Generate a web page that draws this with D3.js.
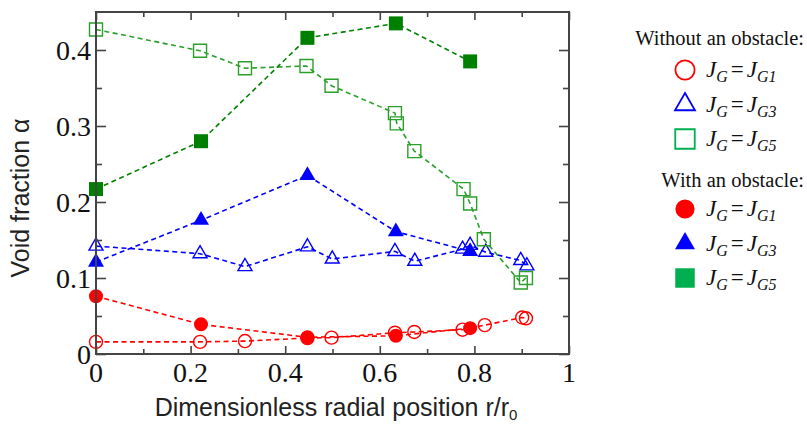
<!DOCTYPE html>
<html>
<head>
<meta charset="utf-8">
<script src="https://cdn.jsdelivr.net/npm/d3@7"></script>
<style>
  body { margin: 0; background: white; }
  svg { display: block; }
</style>
</head>
<body>
<div id="chart"></div>
<script>
// data (x = r/r0, y = void fraction)
var openG1X = [0, 0.22, 0.315, 0.447, 0.498, 0.632, 0.673, 0.775, 0.822, 0.901, 0.909];
var openG1Y = [0.016, 0.016, 0.017, 0.021, 0.0215, 0.028, 0.029, 0.032, 0.038, 0.048, 0.047];
var openG3X = [0, 0.22, 0.315, 0.447, 0.4995, 0.632, 0.674, 0.775, 0.791, 0.824, 0.898, 0.911];
var openG3Y = [0.142, 0.132, 0.115, 0.141, 0.125, 0.135, 0.122, 0.138, 0.143, 0.134, 0.123, 0.116];
var openG5X = [0, 0.22, 0.315, 0.445, 0.498, 0.632, 0.636, 0.673, 0.777, 0.791, 0.82, 0.898, 0.909];
var openG5Y = [0.427, 0.399, 0.376, 0.379, 0.353, 0.317, 0.3035, 0.267, 0.217, 0.198, 0.151, 0.094, 0.1];
var fillX = [0, 0.222, 0.447, 0.634, 0.791];
var fillG1Y = [0.076, 0.039, 0.022, 0.024, 0.034];
var fillG3Y = [0.121, 0.176, 0.235, 0.161, 0.135];
var fillG5Y = [0.217, 0.28, 0.416, 0.435, 0.385];

var xLabels = [0, 0.2, 0.4, 0.6, 0.8, 1];
var yLabels = [0, 0.1, 0.2, 0.3, 0.4];
var legendRows = ["G1", "G3", "G5"];

var width = 807, height = 424;
var red = "#ff0000", blue = "#0000ff", green = "#2a9f2a", dkGreen = "#008000";
var serif = "'Liberation Serif', 'Times New Roman', serif";
var sans = "'Liberation Sans', Arial, sans-serif";

var svg = d3.select("#chart").append("svg")
    .attr("width", width)
    .attr("height", height);

var x = d3.scaleLinear().domain([0, 1]).range([96, 569]);
var y = d3.scaleLinear().domain([0, 0.45]).range([354, 12]);

function pts(xs, ys) {
    return xs.map(function(v, i) { return {x: v, y: ys[i]}; });
}

var line = d3.line()
    .x(d => x(d.x))
    .y(d => y(d.y));

var series = [
    {data: pts(openG1X, openG1Y), color: red, type: d3.symbolCircle, size: 133, fill: false},
    {data: pts(openG3X, openG3Y), color: blue, type: d3.symbolTriangle, size: 85, fill: false},
    {data: pts(openG5X, openG5Y), color: green, type: d3.symbolSquare, size: 169, fill: false},
    {data: pts(fillX, fillG1Y), color: red, type: d3.symbolCircle, size: 154, fill: true},
    {data: pts(fillX, fillG3Y), color: blue, type: d3.symbolTriangle, size: 111, fill: true},
    {data: pts(fillX, fillG5Y), color: dkGreen, type: d3.symbolSquare, size: 196, fill: true}
];

//dashed lines first
series.forEach(function(s) {
    svg.append("path")
        .datum(s.data)
        .attr("fill", "none")
        .attr("stroke", s.color)
        .attr("stroke-width", 1.6)
        .attr("stroke-dasharray", "5,3.5")
        .attr("d", line);
});

//markers
series.forEach(function(s) {
    svg.append("g").selectAll("path")
        .data(s.data)
        .enter().append("path")
        .attr("transform", d => "translate(" + x(d.x) + "," + y(d.y) + ")")
        .attr("d", d3.symbol().type(s.type).size(s.size))
        .attr("fill", s.fill ? s.color : "none")
        .attr("stroke", s.color)
        .attr("stroke-width", s.fill ? 0 : 1.4);
});

//frame and ticks (inward)
var axisColor = "#444";
var axes = svg.append("g").attr("class", "axes");

function tickAxis(axisFn, scale, vals, size, tr) {
    var g = axes.append("g")
        .attr("transform", tr)
        .call(axisFn(scale).tickValues(vals).tickSizeInner(-size).tickSizeOuter(0).tickFormat(""));
    g.select(".domain").remove();
    g.selectAll("line").attr("stroke", axisColor).attr("stroke-width", 1.6);
    return g;
}

var xMinor = d3.range(0.1, 1, 0.2);
var yMinor = d3.range(0.05, 0.45, 0.1);
tickAxis(d3.axisBottom, x, xLabels, 8, "translate(0,354)");
tickAxis(d3.axisBottom, x, xMinor, 5, "translate(0,354)");
tickAxis(d3.axisTop, x, xLabels, 8, "translate(0,12)");
tickAxis(d3.axisTop, x, xMinor, 5, "translate(0,12)");
tickAxis(d3.axisLeft, y, yLabels, 10, "translate(96,0)");
tickAxis(d3.axisLeft, y, yMinor, 6, "translate(96,0)");
tickAxis(d3.axisRight, y, yLabels, 10, "translate(569,0)");
tickAxis(d3.axisRight, y, yMinor, 6, "translate(569,0)");

axes.append("rect")
    .attr("x", 96)
    .attr("y", 12)
    .attr("width", 569 - 96)
    .attr("height", 354 - 12)
    .attr("fill", "none")
    .attr("stroke", axisColor)
    .attr("stroke-width", 2);

//tick labels
var fmt = d => d === 0 ? "0" : d === 1 ? "1" : d3.format(".1f")(d);
svg.append("g").selectAll("text")
    .data(xLabels)
    .enter().append("text")
    .attr("x", d => x(d))
    .attr("y", 382)
    .attr("text-anchor", "middle")
    .style("font-family", serif)
    .attr("font-size", 28)
    .attr("fill", "#111")
    .text(fmt);

svg.append("g").selectAll("text")
    .data(yLabels)
    .enter().append("text")
    .attr("x", 91)
    .attr("y", d => y(d) + 9.5)
    .attr("text-anchor", "end")
    .style("font-family", serif)
    .attr("font-size", 28)
    .attr("fill", "#111")
    .text(fmt);

//axis titles
svg.append("text")
    .attr("x", 336)
    .attr("y", 416)
    .attr("text-anchor", "middle")
    .style("font-family", sans)
    .attr("font-size", 25)
    .attr("fill", "#222")
    .html("Dimensionless radial position r/r<tspan font-size='15' dy='4'>0</tspan>");

svg.append("text")
    .attr("transform", "translate(29,198) rotate(-90)")
    .attr("text-anchor", "middle")
    .style("font-family", sans)
    .attr("font-size", 25)
    .attr("fill", "#222")
    .text("Void fraction \u03b1");

//legend
var legColors = [red, blue, "#00b050"];
var legTypes = [d3.symbolCircle, d3.symbolTriangle, d3.symbolSquare];
var legSizes = [290, 173, 380];

function legendBlock(title, titleY, rowY0, filled) {
    svg.append("text")
        .attr("x", 804)
        .attr("y", titleY)
        .attr("text-anchor", "end")
        .style("font-family", serif)
        .attr("font-size", 20.5)
        .attr("fill", "#111")
        .text(title);

    legendRows.forEach(function(sub, i) {
        var cy = rowY0 + i * 34.5;
        svg.append("path")
            .attr("transform", "translate(685," + cy + ")")
            .attr("d", d3.symbol().type(legTypes[i]).size(legSizes[i]))
            .attr("fill", filled ? legColors[i] : "none")
            .attr("stroke", legColors[i])
            .attr("stroke-width", filled ? 0 : 1.8);
        svg.append("text")
            .attr("x", 706)
            .attr("y", cy + 7)
            .style("font-family", serif)
            .attr("font-size", 23)
            .attr("fill", "#111")
            .html("<tspan font-style='italic'>J</tspan>" +
                "<tspan font-style='italic' font-size='16' dy='5'>G</tspan>" +
                "<tspan dy='-5' dx='3'>=</tspan>" +
                "<tspan font-style='italic' dx='3'>J</tspan>" +
                "<tspan font-style='italic' font-size='16' dy='5'>" + sub + "</tspan>");
    });
}

legendBlock("Without an obstacle:", 45, 70, false);
legendBlock("With an obstacle:", 187, 209, true);
</script>
</body>
</html>
